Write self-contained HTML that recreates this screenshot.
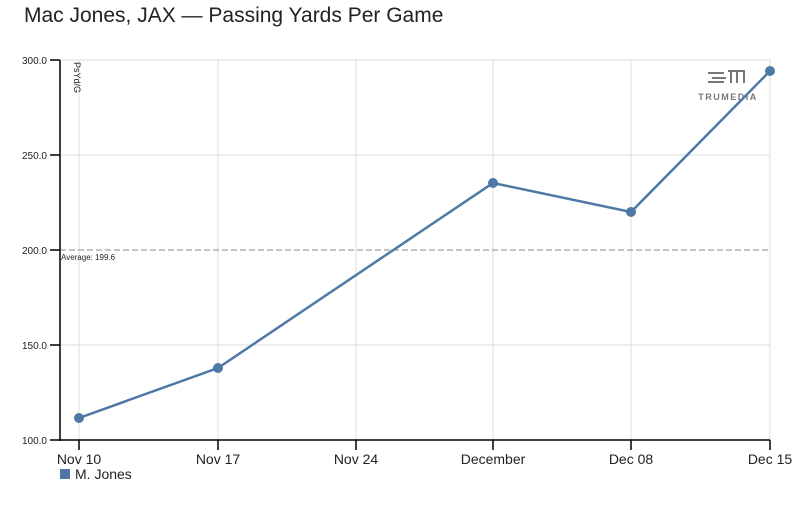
<!DOCTYPE html>
<html><head><meta charset="utf-8"><style>
body{margin:0;background:#fff;width:800px;height:500px;overflow:hidden;font-family:"Liberation Sans",sans-serif}
</style></head><body>
<svg width="800" height="500" xmlns="http://www.w3.org/2000/svg" font-family="Liberation Sans, sans-serif">
<text x="24" y="22" font-size="21" fill="#222">Mac Jones, JAX — Passing Yards Per Game</text>
<rect x="60" y="60" width="710" height="380" fill="none" stroke="#ddd"/>
<g stroke="#ddd" stroke-width="1">
<line x1="60" y1="155" x2="770" y2="155"/><line x1="60" y1="345" x2="770" y2="345"/>
<line x1="79" y1="60" x2="79" y2="440"/><line x1="218" y1="60" x2="218" y2="440"/>
<line x1="356" y1="60" x2="356" y2="440"/><line x1="493" y1="60" x2="493" y2="440"/>
<line x1="631" y1="60" x2="631" y2="440"/>
</g>
<line x1="60" y1="250" x2="770" y2="250" stroke="#888" stroke-dasharray="6,3"/>
<text x="61" y="260" font-size="8" fill="#222">Average: 199.6</text>
<g stroke="#000" stroke-width="1.5">
<line x1="60" y1="60" x2="60" y2="441"/><line x1="59" y1="440" x2="770" y2="440"/>
<line x1="50" y1="60" x2="60" y2="60"/><line x1="50" y1="155" x2="60" y2="155"/><line x1="50" y1="250" x2="60" y2="250"/><line x1="50" y1="345" x2="60" y2="345"/><line x1="50" y1="440" x2="60" y2="440"/>
<line x1="79" y1="440" x2="79" y2="450"/><line x1="218" y1="440" x2="218" y2="450"/><line x1="356" y1="440" x2="356" y2="450"/><line x1="493" y1="440" x2="493" y2="450"/><line x1="631" y1="440" x2="631" y2="450"/><line x1="770" y1="440" x2="770" y2="450"/>
</g>
<g font-size="10" fill="#222" text-anchor="end">
<text x="47" y="64">300.0</text><text x="47" y="159">250.0</text><text x="47" y="254">200.0</text><text x="47" y="349">150.0</text><text x="47" y="444">100.0</text>
</g>
<text transform="translate(74,62) rotate(90)" font-size="9" fill="#222">PsYd/G</text>
<g font-size="14" fill="#222" text-anchor="middle">
<text x="79" y="464">Nov 10</text><text x="218" y="464">Nov 17</text><text x="356" y="464">Nov 24</text><text x="493" y="464">December</text><text x="631" y="464">Dec 08</text><text x="770" y="464">Dec 15</text>
</g>
<g fill="#777"><rect x="708" y="72" width="16" height="2"/><rect x="712" y="77" width="14" height="2"/><rect x="708" y="81" width="16" height="2"/>
<rect x="728" y="70" width="17" height="2"/><rect x="730" y="72" width="2" height="11"/><rect x="736" y="72" width="2" height="11"/><rect x="743" y="72" width="2" height="11"/></g>
<text x="728" y="100" font-size="9" fill="#777" text-anchor="middle" letter-spacing="1.5" font-weight="bold">TRUMEDIA</text>
<polyline points="79,418 218,368 493,183 631,212 770,71" fill="none" stroke="#4e79a7" stroke-width="2.5"/>
<g fill="#4e79a7"><circle cx="79" cy="418" r="5"/><circle cx="218" cy="368" r="5"/><circle cx="493" cy="183" r="5"/><circle cx="631" cy="212" r="5"/><circle cx="770" cy="71" r="5"/></g>
<rect x="60" y="469" width="10" height="10" fill="#4e79a7"/>
<text x="75" y="479" font-size="14" fill="#222">M. Jones</text>
</svg>
</body></html>
